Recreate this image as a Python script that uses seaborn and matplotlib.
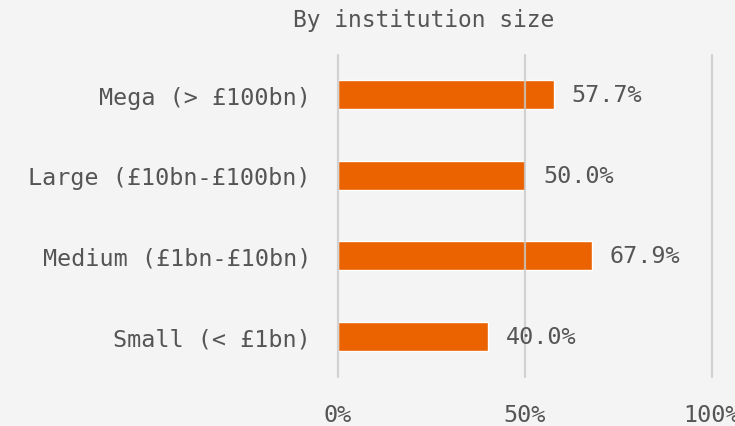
import matplotlib
matplotlib.use("Agg")
import matplotlib.pyplot as plt
import seaborn as sns
import pandas as pd

categories = ["Mega (> £100bn)", "Large (£10bn-£100bn)", "Medium (£1bn-£10bn)", "Small (< £1bn)"]
shares = [57.7, 50.0, 67.9, 40.0]
x_ticks = [0, 50, 100]
x_tick_labels = ["0%", "50%", "100%"]
title = "By institution size"

BG = "#f4f4f4"
BAR = "#eb6300"
TEXT = "#555555"
GRID = "#c9c9c9"

sns.set_theme(style="white", rc={"axes.facecolor": BG, "figure.facecolor": BG})
plt.rcParams["font.family"] = ["DejaVu Sans Mono", "DejaVu Sans"]

df = pd.DataFrame({"size": categories, "share": shares})

fig = plt.figure(figsize=(7.35, 4.27), dpi=100)
ax = fig.add_axes([338 / 735, 1 - 377.5 / 427, (712 - 338) / 735, 322 / 427])

sns.barplot(data=df, x="share", y="size", orient="h", color=BAR, width=0.36,
            saturation=1, ax=ax, zorder=2)

ax.set_xlim(0, 100)
ax.set_ylim(3.5, -0.5)
ax.set_xticks(x_ticks)
ax.set_xticklabels(x_tick_labels)
ax.set_xlabel("")
ax.set_ylabel("")

for x in x_ticks:
    ax.axvline(x, color=GRID, lw=1.6, zorder=3, alpha=0.8, clip_on=False)

for s in ax.spines.values():
    s.set_visible(False)

ax.tick_params(axis="y", length=0, pad=19.5, labelsize=16.8, labelcolor=TEXT)
ax.tick_params(axis="x", length=0, pad=19, labelsize=16.8, labelcolor=TEXT)

for i, v in enumerate(shares):
    ax.text(v + 4.8, i, f"{v:.1f}%", va="center", ha="left",
            fontsize=16.8, color=TEXT, zorder=4)

fig.text(424 / 735, 1 - 20 / 427, title, ha="center", va="center",
         fontsize=16.5, color=TEXT)

fig.savefig("out.png", dpi=100, facecolor=BG)
